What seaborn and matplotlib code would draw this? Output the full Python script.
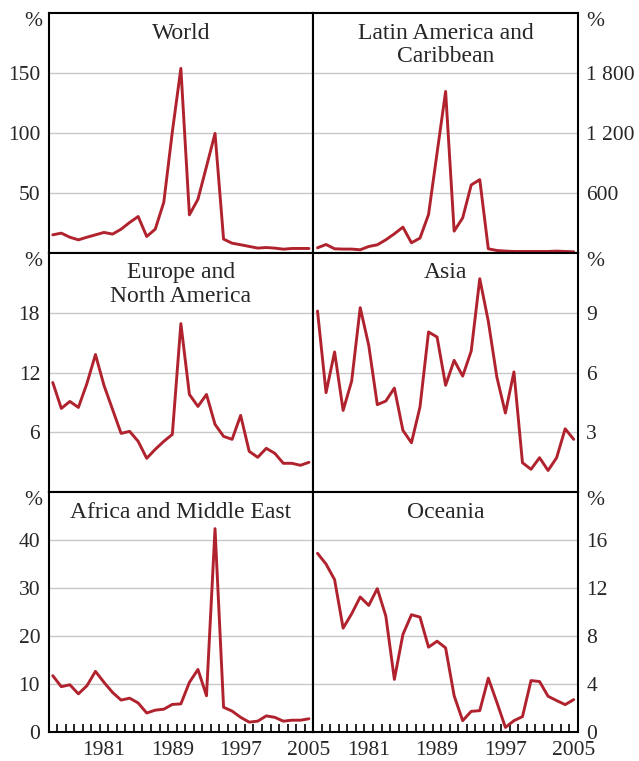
import matplotlib
matplotlib.use('Agg')
from matplotlib import pyplot as plt
import seaborn as sns
import numpy as np

years = list(range(1975, 2006))

world = [15, 16.4, 13, 10.8, 13, 15, 17, 15.6, 19.7, 25.3, 30.3, 13.6, 19.7,
         42.2, 101, 154, 31.7, 44.7, 72, 99.7, 11.4, 8, 6.7, 5.3, 3.9, 4.4,
         3.9, 3, 3.6, 3.6, 3.6]
latin = [50, 83, 40, 37, 37, 30, 63, 80, 130, 190, 257, 100, 147, 383, 1000,
         1617, 217, 350, 680, 733, 40, 23, 17, 13, 13, 13, 13, 13, 17, 13, 10]
europe = [11.0, 8.4, 9.1, 8.5, 10.9, 13.8, 10.7, 8.3, 5.9, 6.1, 5.1, 3.4, 4.3,
          5.1, 5.8, 16.9, 9.8, 8.6, 9.8, 6.8, 5.6, 5.3, 7.7, 4.1, 3.5, 4.4,
          3.9, 2.9, 2.9, 2.7, 3.0]
asia = [9.08, 4.99, 7.03, 4.1, 5.57, 9.25, 7.36, 4.39, 4.57, 5.22, 3.1, 2.48,
        4.27, 8.03, 7.78, 5.36, 6.61, 5.82, 7.08, 10.7, 8.57, 5.77, 3.97, 6.03,
        1.48, 1.15, 1.73, 1.09, 1.73, 3.18, 2.65]
africa = [11.7, 9.4, 9.8, 7.9, 9.6, 12.6, 10.3, 8.2, 6.6, 7.0, 6.0, 3.9, 4.5,
          4.7, 5.7, 5.8, 10.3, 13.0, 7.5, 42.4, 5.1, 4.3, 3.0, 2.0, 2.2, 3.3,
          3.0, 2.2, 2.4, 2.4, 2.7]
oceania = [14.9, 14.0, 12.7, 8.65, 9.85, 11.25, 10.55, 11.95, 9.66, 4.37, 8.12,
           9.77, 9.57, 7.06, 7.56, 7.0, 3.0, 0.92, 1.7, 1.76, 4.47, 2.46, 0.36,
           0.92, 1.26, 4.27, 4.19, 2.96, 2.6, 2.26, 2.68]

titles = ['World', 'Latin America and\nCaribbean', 'Europe and\nNorth America',
          'Asia', 'Africa and Middle East', 'Oceania']
series = [world, latin, europe, asia, africa, oceania]
ymaxes = [200, 2400, 24, 12, 50, 20]
yticks = [[50, 100, 150], [600, 1200, 1800], [6, 12, 18], [3, 6, 9],
          [0, 10, 20, 30, 40], [0, 4, 8, 12, 16]]
yticklabels = [['50', '100', '150'], ['600', '1 200', '1 800'],
               ['6', '12', '18'], ['3', '6', '9'],
               ['0', '10', '20', '30', '40'], ['0', '4', '8', '12', '16']]
xlabels = [1981, 1989, 1997, 2005]

sns.set_style('white')
plt.rcParams['font.family'] = ['Liberation Serif', 'DejaVu Serif']

fig, axes = plt.subplots(3, 2, figsize=(6.39, 7.61), dpi=100)
plt.subplots_adjust(left=0.0759, right=0.9045, top=0.9825, bottom=0.0385,
                    wspace=0, hspace=0)

red = '#b0232e'
fs = 15.5
for i, ax in enumerate(axes.flat):
    row, col = divmod(i, 2)
    sns.lineplot(x=years, y=series[i], ax=ax, color=red, linewidth=2.1)
    ax.set_xlim(1974.5, 2005.5)
    ax.set_ylim(0, ymaxes[i])
    ax.set_yticks(yticks[i], yticklabels[i])
    ax.grid(axis='y', color='#c8c8c8', linewidth=1.0)
    ax.set_axisbelow(True)
    for s in ax.spines.values():
        s.set_visible(True)
        s.set_color('black')
        s.set_linewidth(1.5)
    if col == 1:
        ax.yaxis.tick_right()
    ax.tick_params(axis='y', length=0, pad=6, labelsize=fs)
    ax.text(0.5, 0.96, titles[i], transform=ax.transAxes, ha='center',
            va='top', fontsize=17, linespacing=1.15)
    ax.text(1.064 if col else -0.058, 0.965, '%', transform=ax.transAxes,
            ha='center', va='center', fontsize=fs)
    if row == 2:
        ax.set_xticks(xlabels)
        ax.set_xticks(np.arange(1975.5, 2005, 1), minor=True)
        ax.tick_params(axis='x', which='major', length=0, pad=7,
                       labelsize=fs)
        ax.tick_params(axis='x', which='minor', direction='in', length=6,
                       width=1.2, color='black', bottom=True)
    else:
        ax.set_xticks([])
    ax.set_xlabel('')
    ax.set_ylabel('')

plt.savefig('out.png', dpi=100)
